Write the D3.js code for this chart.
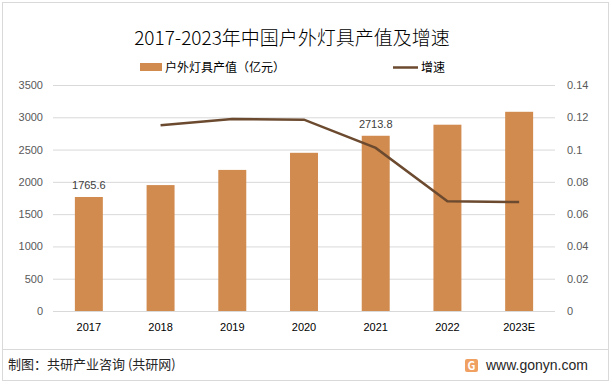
<!DOCTYPE html>
<html>
<head>
<meta charset="utf-8">
<script src="https://cdn.jsdelivr.net/npm/d3@7"></script>
<style>
  body { margin: 0; background: #fff; }
  text { font-family: "Noto Sans CJK SC", "Noto Sans", sans-serif; }
</style>
</head>
<body>
<svg id="chart"></svg>
<script>
// data
var years = ["2017", "2018", "2019", "2020", "2021", "2022", "2023E"];
var output = [1765.6, 1950, 2185, 2450, 2713.8, 2885, 3085];
var growth = [null, 0.115, 0.119, 0.1185, 0.101, 0.068, 0.0675];
var leftTicks = [0, 500, 1000, 1500, 2000, 2500, 3000, 3500];
var rightTicks = [0, 0.02, 0.04, 0.06, 0.08, 0.1, 0.12, 0.14];
var labelled = ["2017", "2021"];

var width = 612, height = 384;
var m = {left: 53, right: 57, top: 85, bottom: 73};

var svg = d3.select("#chart").attr("width", width).attr("height", height);

// frame
svg.append("rect").attr("x", 2.5).attr("y", 2.5).attr("width", width - 6).attr("height", height - 6)
  .attr("fill", "#fff").attr("stroke", "#d9d9d9");

var x = d3.scaleBand().domain(years).range([m.left, width - m.right]).paddingInner(0.61).paddingOuter(0.305);
var yL = d3.scaleLinear().domain([0, 3500]).range([height - m.bottom, m.top]);
var yR = d3.scaleLinear().domain([0, 0.14]).range([height - m.bottom, m.top]);

// grid
svg.append("g").selectAll("line").data(leftTicks).enter().append("line")
  .attr("x1", m.left).attr("x2", width - m.right)
  .attr("y1", d => yL(d) + 0.5).attr("y2", d => yL(d) + 0.5)
  .attr("stroke", "#d9d9d9");

// left axis
var axL = svg.append("g").attr("transform", "translate(" + (m.left - 10) + ",0)")
  .call(d3.axisLeft(yL).tickValues(leftTicks).tickSize(0).tickPadding(0).tickFormat(d3.format("d")));
axL.select(".domain").remove();
axL.selectAll("text").attr("fill", "#595959").style("font-size", "11px").style("font-family", "Liberation Sans, sans-serif");

// right axis
var axR = svg.append("g").attr("transform", "translate(" + (width - m.right + 12) + ",0)")
  .call(d3.axisRight(yR).tickValues(rightTicks).tickSize(0).tickPadding(0).tickFormat(d3.format("~g")));
axR.select(".domain").remove();
axR.selectAll("text").attr("fill", "#595959").style("font-size", "11px").style("font-family", "Liberation Sans, sans-serif");

// x axis
var axX = svg.append("g").attr("transform", "translate(0," + (height - m.bottom + 12) + ")")
  .call(d3.axisBottom(x).tickSize(0).tickPadding(0));
axX.select(".domain").remove();
axX.selectAll("text").attr("fill", "#000").style("font-size", "11px").style("font-family", "Liberation Sans, sans-serif");

// bars
svg.append("g").selectAll("rect").data(years).enter().append("rect")
  .attr("x", d => x(d)).attr("width", x.bandwidth())
  .attr("y", (d, i) => yL(output[i]))
  .attr("height", (d, i) => yL(0) - yL(output[i]))
  .attr("fill", "#d28b4f");

// data labels
svg.append("g").selectAll("text").data(years.filter(d => labelled.indexOf(d) >= 0)).enter().append("text")
  .attr("x", d => x(d) + x.bandwidth() / 2)
  .attr("y", d => yL(output[years.indexOf(d)]) - 8)
  .attr("text-anchor", "middle")
  .attr("fill", "#404040")
  .style("font-size", "11px").style("font-family", "Liberation Sans, sans-serif")
  .text(d => output[years.indexOf(d)]);

// growth line
var pts = years.map((d, i) => [d, growth[i]]).filter(p => p[1] != null);
svg.append("path").datum(pts)
  .attr("fill", "none").attr("stroke", "#6b4a2f").attr("stroke-width", 2.5)
  .attr("d", d3.line().x(p => x(p[0]) + x.bandwidth() / 2).y(p => yR(p[1])));

// title
svg.append("text").attr("x", 292).attr("y", 45).attr("text-anchor", "middle")
  .style("font-size", "19px").style("font-weight", "300").attr("fill", "#000")
  .text("2017-2023年中国户外灯具产值及增速");

// legend
svg.append("rect").attr("x", 140).attr("y", 63).attr("width", 22).attr("height", 8).attr("fill", "#d28b4f");
svg.append("text").attr("x", 165).attr("y", 72).style("font-size", "12px").attr("fill", "#000").text("户外灯具产值（亿元）");
svg.append("line").attr("x1", 393).attr("x2", 418).attr("y1", 67.5).attr("y2", 67.5).attr("stroke", "#6b4a2f").attr("stroke-width", 2.5);
svg.append("text").attr("x", 421).attr("y", 72).style("font-size", "12px").attr("fill", "#000").text("增速");

// footer
svg.append("line").attr("x1", 3).attr("x2", width - 4).attr("y1", 349.5).attr("y2", 349.5).attr("stroke", "#d9d9d9");
svg.append("text").attr("x", 8).attr("y", 369).style("font-size", "13px").attr("fill", "#262626")
  .text("制图：共研产业咨询 (共研网)");
svg.append("rect").attr("x", 465).attr("y", 359).attr("width", 13).attr("height", 13).attr("rx", 2).attr("fill", "#f0a060");
svg.append("text").attr("x", 471.5).attr("y", 370).attr("text-anchor", "middle").style("font-size", "11px")
  .style("font-weight", "bold").attr("fill", "#fff").text("G");
svg.append("text").attr("x", 486).attr("y", 370).style("font-size", "14px").attr("fill", "#262626")
  .style("font-family", "Liberation Sans, sans-serif").text("www.gonyn.com");
</script>
</body>
</html>
